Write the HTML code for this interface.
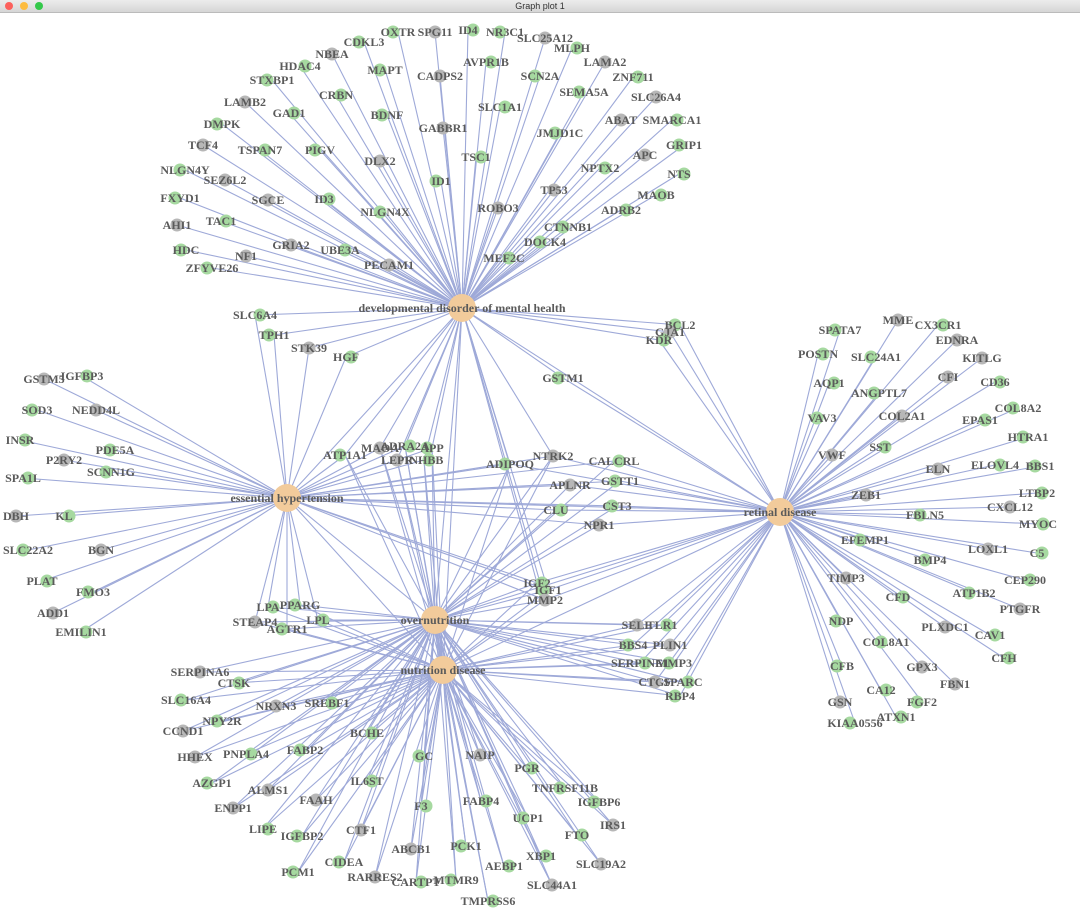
<!DOCTYPE html>
<html><head><meta charset="utf-8">
<style>
html,body{margin:0;padding:0;background:#fff;width:1080px;height:912px;overflow:hidden}
#bar{position:absolute;left:0;top:0;width:1080px;height:12px;background:linear-gradient(#ececec,#d6d6d6);border-bottom:1px solid #bbb;font:9px "Liberation Sans",sans-serif;color:#333;text-align:center;line-height:12px}
.d{position:absolute;top:2px;width:8px;height:8px;border-radius:50%}
svg{position:absolute;left:0;top:13px}
text{font-family:"Liberation Serif",serif;font-weight:bold;font-size:12px;fill:#5a5a5a}
</style></head><body>
<div id="bar">Graph plot 1<span class="d" style="left:5px;background:#fc605c"></span><span class="d" style="left:20px;background:#fdbc40"></span><span class="d" style="left:35px;background:#34c84a"></span></div>
<svg id="g" width="1080" height="899" viewBox="0 13 1080 899"></svg>
<script>
const H={DMH:[462,308,"developmental disorder of mental health"],EH:[287,498,"essential hypertension"],RD:[780,512,"retinal disease"],ON:[435,620,"overnutrition"],ND:[443,670,"nutrition disease"]};
const groups=[
[["DMH"],`OXTR 398 32;SPG11 435 32;ID4 468 30;NR3C1 505 32;SLC25A12 545 38;MLPH 572 48;CDKL3 364 42;NBEA 332 54;HDAC4 300 66;MAPT 385 70;CADPS2 440 76;AVPR1B 486 62;SCN2A 540 76;LAMA2 605 62;ZNF711 633 77;STXBP1 272 80;LAMB2 245 102;CRBN 336 95;BDNF 387 115;GABBR1 443 128;SLC1A1 500 107;SEMA5A 584 92;SLC26A4 656 97;GAD1 289 113;DMPK 222 124;ABAT 621 120;SMARCA1 672 120;JMJD1C 560 133;TCF4 203 145;TSPAN7 260 150;PIGV 320 150;DLX2 380 161;TSC1 476 157;GRIP1 684 145;APC 645 155;NPTX2 600 168;NLGN4Y 185 170;SEZ6L2 225 180;NTS 679 174;ID1 441 181;TP53 554 190;MAOB 656 195;FXYD1 180 198;SGCE 268 200;ID3 324 199;NLGN4X 385 212;ROBO3 498 208;ADRB2 621 210;CTNNB1 568 227;AHI1 177 225;TAC1 221 221;DOCK4 545 242;GRIA2 291 245;UBE3A 340 250;HDC 186 250;NF1 246 256;MEF2C 504 258;ZFYVE26 212 268;PECAM1 389 265`],
[["DMH","EH"],`SLC6A4 255 315;TPH1 274 335;STK39 309 348;HGF 346 357`],
[["DMH","RD"],`BCL2 680 325;GJA1 670 332;KDR 659 340;GSTM1 563 378`],
[["EH"],`GSTM5 44 379;IGFBP3 82 376;SOD3 37 410;NEDD4L 96 410;INSR 20 440;PDE5A 115 450;P2RY2 64 460;SPA1L 23 478;SCNN1G 111 472;DBH 16 516;KL 64 516;SLC22A2 28 550;BGN 101 550;PLAT 42 581;FMO3 93 592;ADD1 53 613;EMILIN1 81 632`],
[["EH","DMH","ON","ND"],`ATP1A1 345 455;MAOA 380 448;ADRA2A 405 446;APP 432 448;LEPR 397 460;INHBB 424 460`],
[["EH","DMH","ON","ND","RD"],`ADIPOQ 510 464;NTRK2 553 456`],
[["EH","RD","ON"],`CALCRL 614 461;GSTT1 620 481;APLNR 570 485;CLU 556 510;CST3 617 506;NPR1 599 525`],
[["RD","ON","ND","DMH","EH"],`IGF2 537 583;IGF1 548 590;MMP2 545 600`],
[["EH","ON","ND"],`LPA 268 607;PPARG 300 605;STEAP4 255 622;LPL 318 620;AGTR1 287 629`],
[["RD"],`MME 898 320;CX3CR1 938 325;SPATA7 840 330;EDNRA 957 340;POSTN 818 354;SLC24A1 876 357;KITLG 982 358;AQP1 829 383;ANGPTL7 879 393;CFI 948 377;CD36 995 382;VAV3 822 418;COL2A1 902 416;EPAS1 980 420;COL8A2 1018 408;VWF 832 455;SST 880 447;HTRA1 1028 437;ELN 938 469;ELOVL4 995 465;BBS1 1040 466;ZEB1 866 495;LTBP2 1037 493;FBLN5 925 515;CXCL12 1010 507;MYOC 1038 524;EFEMP1 865 540;LOXL1 988 549;C5 1037 553;BMP4 930 560;TIMP3 846 578;CEP290 1025 580;ATP1B2 974 593;PTGFR 1020 609;CFD 898 597;NDP 841 621;PLXDC1 945 627;CAV1 990 635;COL8A1 886 642;GPX3 922 667;CFH 1004 658;CFB 842 666;FBN1 955 684;CA12 881 690;FGF2 922 702;GSN 840 702;ATXN1 896 717;KIAA0556 855 723`],
[["ON","ND","RD"],`SELE 637 625;TLR1 662 625;BBS4 633 645;PLIN1 670 645;SERPINE1 640 663;MMP3 674 663;CTGF 655 682;SPARC 683 682;RBP4 680 696`],
[["ON","ND"],`SERPINA6 200 672;CTSK 234 683;SLC16A4 186 700;NRXN3 276 706;SREBF1 327 703;NPY2R 222 721;CCND1 183 731;BCHE 367 733;FABP2 305 750;HHEX 195 757;PNPLA4 246 754;GC 424 756;NAIP 480 755;PGR 527 768;AZGP1 212 783;ALMS1 268 790;IL6ST 367 781;TNFRSF11B 565 788;FAAH 316 800;FABP4 481 801;IGFBP6 599 802;ENPP1 233 808;F3 421 806;UCP1 528 818;IRS1 613 825;LIPE 263 829;IGFBP2 302 836;CTF1 361 830;FTO 577 835;PCK1 466 846;ABCB1 411 849;XBP1 541 856;CIDEA 344 862;SLC19A2 601 864;AEBP1 504 866;PCM1 298 872;RARRES2 375 877;CARTPT 416 882;MTMR9 456 880;SLC44A1 552 885;TMPRSS6 488 901`]
];
const NS="http://www.w3.org/2000/svg";const g=document.getElementById("g");
const E=document.createElementNS(NS,"g"),N=document.createElementNS(NS,"g"),T=document.createElementNS(NS,"g");
E.setAttribute("stroke","#9ea9d8");E.setAttribute("stroke-width","1.1");g.append(E,N,T);
function el(p,t,a,txt){const e=document.createElementNS(NS,t);for(const k in a)e.setAttribute(k,a[k]);if(txt)e.textContent=txt;p.appendChild(e);}
[["DMH","EH"],["DMH","ON"],["DMH","ND"],["EH","ON"],["EH","ND"],["RD","ON"],["RD","ND"],["EH","RD"],["ON","ND"],["DMH","RD"]].forEach(([a,b])=>el(E,"line",{x1:H[a][0],y1:H[a][1],x2:H[b][0],y2:H[b][1]}));
let i=0;
groups.forEach(([hs,s])=>s.split(";").forEach(r=>{const [n,x,y]=r.trim().split(" ");
 hs.forEach(h=>el(E,"line",{x1:H[h][0],y1:H[h][1],x2:x,y2:y}));
 el(N,"circle",{cx:+x+ (i%3-1)*5,cy:+y,r:6.5,fill:(i%3==1)?"#b7b7b7":"#a6d9a0"});
 el(T,"text",{x:x,y:+y+4,"text-anchor":"middle"},n);i++;}));
for(const k in H){const [x,y,l]=H[k];el(N,"circle",{cx:x,cy:y,r:14,fill:"#f2cb9b"});el(T,"text",{x:x,y:y+4,"text-anchor":"middle"},l);}
</script>
</body></html>
